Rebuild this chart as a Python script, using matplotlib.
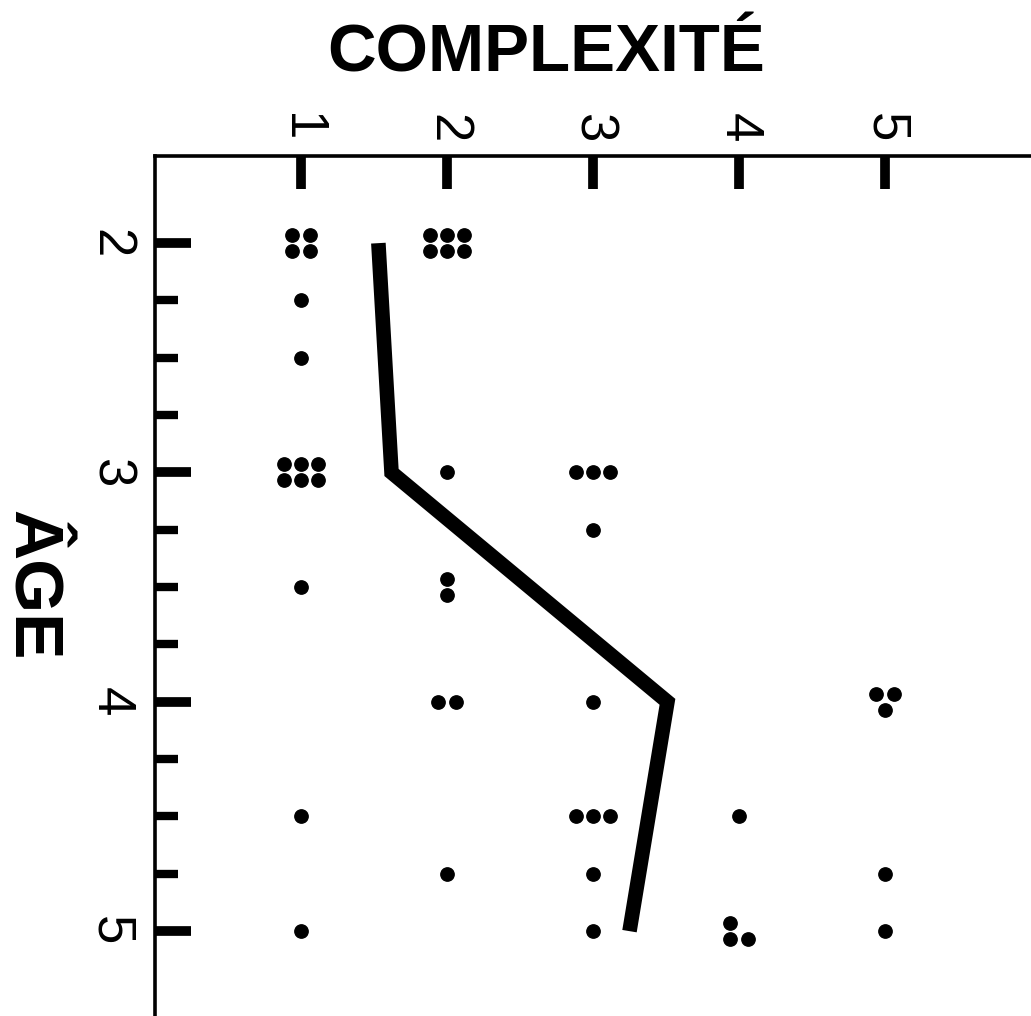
import matplotlib as mpl
mpl.use('Agg')
import matplotlib.pyplot as plt
from matplotlib.transforms import offset_copy
from matplotlib.ticker import FixedLocator
import numpy

# each cluster of dots = number of children at that age / complexity level
ages =       [2, 2, 2.25, 2.5, 3, 3, 3, 3.25, 3.5, 3.5, 4, 4, 4, 4.5, 4.5, 4.5, 4.75, 4.75, 4.75, 5, 5, 5, 5]
complexite = [1, 2, 1,    1,   1, 2, 3, 3,    1,   2,   2, 3, 5, 1,   3,   4,   2,    3,    5,    1, 3, 4, 5]
counts =     [4, 6, 1,    1,   6, 1, 3, 1,    1,   2,   2, 1, 3, 1,   3,   1,   1,    1,    1,    1, 1, 3, 1]

# mean complexity per age (thick line)
mean_ages = [2, 3, 4, 5]
mean_complexite = [1.53, 1.62, 3.51, 3.25]

x_ticks = [1, 2, 3, 4, 5]
y_ticks = [2, 3, 4, 5]
y_minor = numpy.arange(2, 5.01, 0.25)

# how the dots of a cluster are arranged (in units of dot spacing)
patterns = {
	'one': [(0, 0)],
	'pair_h': [(-0.5, 0), (0.5, 0)],
	'pair_v': [(0, 0.5), (0, -0.5)],
	'row3': [(-1, 0), (0, 0), (1, 0)],
	'tri_down': [(-0.5, 0.5), (0.5, 0.5), (0, -0.5)],
	'tri_corner': [(-0.5, 0.5), (-0.5, -0.5), (0.5, -0.5)],
	'grid4': [(-0.5, 0.5), (0.5, 0.5), (-0.5, -0.5), (0.5, -0.5)],
	'grid6': [(-1, 0.5), (0, 0.5), (1, 0.5), (-1, -0.5), (0, -0.5), (1, -0.5)],
}
default_pattern = {1: 'one', 2: 'pair_h', 3: 'row3', 4: 'grid4', 6: 'grid6'}
special_pattern = {(3.5, 2): 'pair_v', (4, 5): 'tri_down', (5, 4): 'tri_corner'}
dx, dy = 12.5, 11.5  # points

font = 'Liberation Sans'

fig = plt.figure(figsize=(10.31, 10.16), dpi=100)
ax = fig.add_axes([155/1031, 0, 876/1031, 860/1016])

for a, c, n in zip(ages, complexite, counts):
	pat = special_pattern.get((a, c), default_pattern[n])
	for ox, oy in patterns[pat]:
		tr = offset_copy(ax.transData, fig=fig, x=ox*dx, y=oy*dy, units='points')
		ax.plot([c], [a], 'o', color='black', markersize=9.6, transform=tr, clip_on=False)

ax.plot(mean_complexite, mean_ages, color='black', lw=10.5, solid_capstyle='butt', solid_joinstyle='miter')

ax.set_xlim(0, 6)
ax.set_ylim(5.37, 1.62)

ax.xaxis.tick_top()
ax.set_xticks(x_ticks)
ax.set_yticks(y_ticks)
ax.yaxis.set_minor_locator(FixedLocator(y_minor))
ax.tick_params(axis='x', which='major', direction='in', length=23.5, width=7, pad=9.5,
			   labelsize=38, labelrotation=-90)
ax.tick_params(axis='y', which='major', direction='in', length=26, width=7, pad=14,
			   labelsize=38, labelrotation=-90)
ax.tick_params(axis='y', which='minor', direction='in', length=16.5, width=6)
for lab in ax.get_xticklabels() + ax.get_yticklabels():
	lab.set_family(font)
for lab in ax.get_yticklabels():
	lab.set_va('center')

for s in ['right', 'bottom']:
	ax.spines[s].set_visible(False)
for s in ['top', 'left']:
	ax.spines[s].set_linewidth(2.6)

fig.text(546/1031, 1-71.5/1016, 'COMPLEXITÉ', ha='center', va='baseline',
		 fontsize=48.5, fontweight='bold', family=font)
fig.text(13/1031, 1-585/1016, 'ÂGE', rotation=-90, rotation_mode='anchor',
		 ha='center', va='baseline', fontsize=50, fontweight='bold', family=font)

plt.savefig('out.png', dpi=100)
